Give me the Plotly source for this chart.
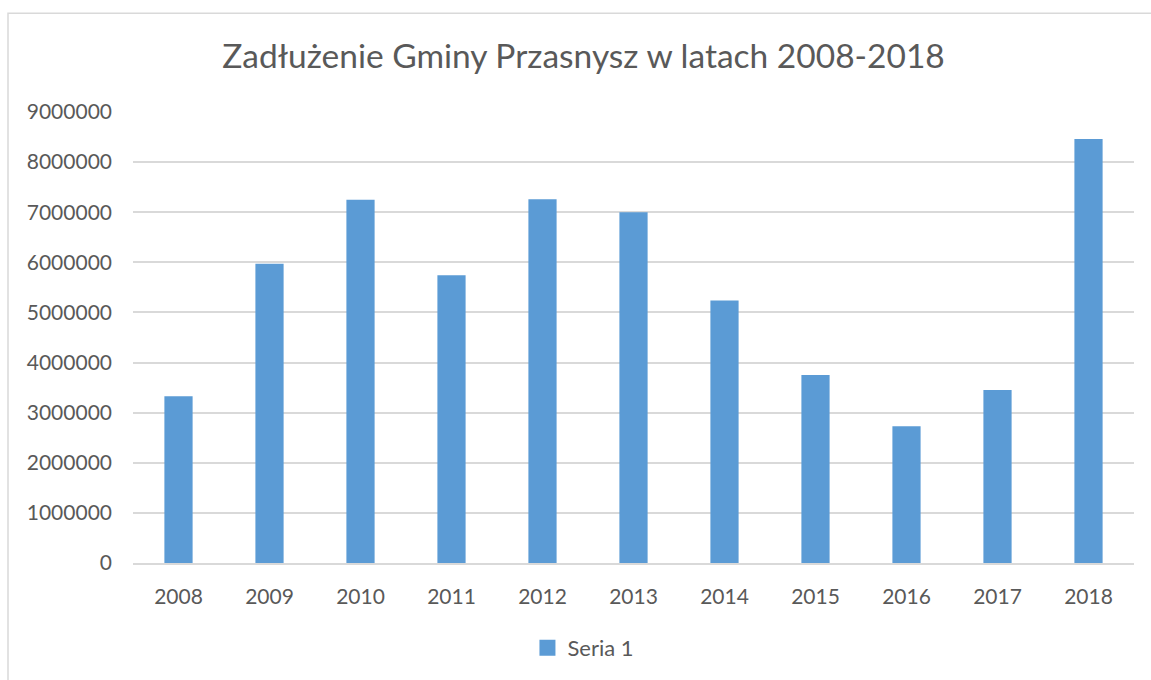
import plotly.graph_objects as go

years = ["2008", "2009", "2010", "2011", "2012", "2013", "2014", "2015", "2016", "2017", "2018"]
debt = [3330000, 5970000, 7250000, 5740000, 7260000, 7000000, 5240000, 3750000, 2730000, 3450000, 8460000]
series_name = "Seria 1"
title_text = "Zadłużenie Gminy Przasnysz w latach 2008-2018"
y_ticks = [0, 1000000, 2000000, 3000000, 4000000, 5000000, 6000000, 7000000, 8000000, 9000000]

FONT = "Lato, 'Open Sans', sans-serif"
TXT = "#595959"
BAR = "#5b9bd5"

fig = go.Figure()
fig.add_trace(go.Bar(x=years, y=debt, name=series_name, marker_color=BAR,
                     marker_line_width=0, showlegend=False))
# legend entry with a larger square symbol
fig.add_trace(go.Scatter(x=[None], y=[None], mode="markers", name=series_name,
                         marker=dict(symbol="square", size=16, color=BAR), showlegend=True))

fig.update_layout(
    width=1151, height=680,
    margin=dict(l=133, r=17, t=112, b=116),
    paper_bgcolor="white", plot_bgcolor="white",
    bargap=0.69,
    title=dict(text=title_text, x=583.5/1151, xanchor="center", y=1-56/680, yanchor="middle",
               font=dict(family=FONT, size=33.5, color=TXT)),
    font=dict(family=FONT, color=TXT),
    showlegend=True,
    legend=dict(orientation="h", x=0.450, xanchor="center", y=(564-648)/452, yanchor="middle",
                font=dict(family=FONT, size=22, color=TXT), itemwidth=30),
    xaxis=dict(showgrid=False, showline=True, linecolor="#d9d9d9", linewidth=1.5,
               tickfont=dict(family=FONT, size=21, color=TXT), ticks="", ticklabelstandoff=14),
    yaxis=dict(range=[0, 9000000], tickvals=y_ticks, ticktext=[str(v) for v in y_ticks],
               showgrid=True, gridcolor="#d9d9d9", gridwidth=1.5, zeroline=False,
               tickfont=dict(family=FONT, size=21, color=TXT), ticks="", ticklabelstandoff=20),
    shapes=[dict(type="rect", xref="paper", yref="paper",
                 x0=(8-133)/1001, x1=1.2, y0=-0.5, y1=(564-13)/452,
                 line=dict(color="#d9d9d9", width=1.5), fillcolor="rgba(0,0,0,0)", layer="below")],
)

fig.write_html("out.html", config={"displayModeBar": False},
               post_script="document.body.style.margin='0';document.body.style.padding='0';")
